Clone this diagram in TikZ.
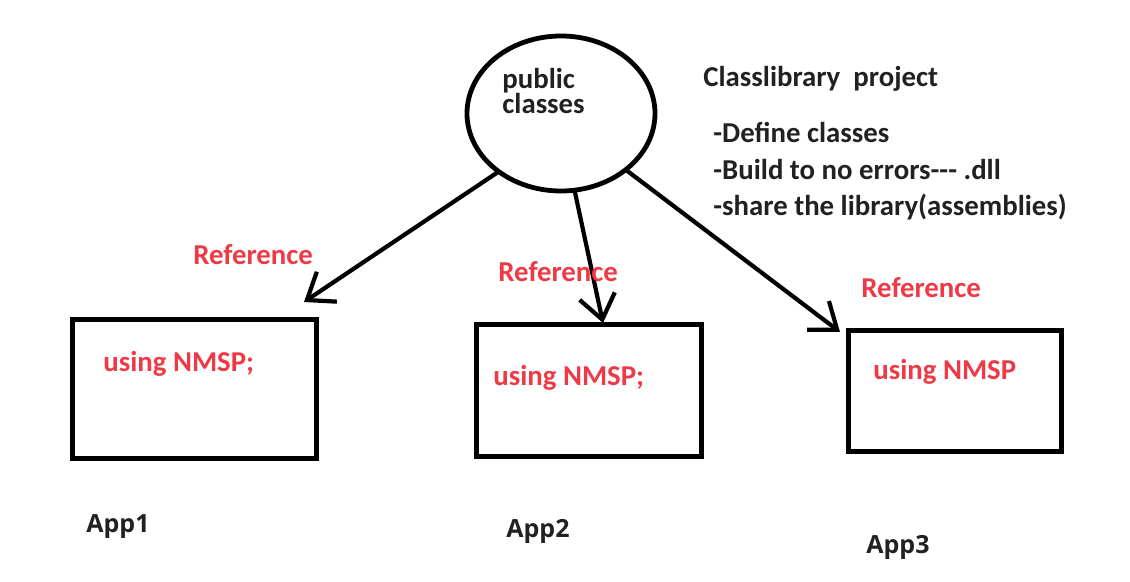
\documentclass[tikz,border=0pt]{standalone}
\usepackage{fontspec}
\setmainfont{Carlito}
\newfontfamily\appfont{Open Sans}
\usetikzlibrary{shapes.geometric,arrows.meta}
\definecolor{refred}{RGB}{237,58,70}
\definecolor{inkgray}{RGB}{33,33,33}
\begin{document}
\begin{tikzpicture}[x=0.5pt,y=-0.5pt,
    txt/.style={anchor=base west,inner sep=0pt,font=\fontsize{14.4}{16}\selectfont\bfseries,text=inkgray},
    redtxt/.style={txt,text=refred},
    apptxt/.style={anchor=base west,inner sep=0pt,font=\appfont\fontsize{12.5}{15}\selectfont\bfseries,text=inkgray},
    appbox/.style={draw,line width=2.5pt,inner sep=0pt,outer sep=0pt,anchor=north west},
    refarrow/.style={line width=2.1pt,-{Straight Barb[length=12pt,width=18pt]}}]

    \useasboundingbox (0,0) rectangle (1130,582);

    % the class library
    \node[draw,ellipse,line width=2.4pt,inner sep=0pt,outer sep=0pt,
          minimum width=94pt,minimum height=77.5pt] (pub) at (561,113.5) {};
       \node[txt,align=left,font=\fontsize{14.4}{12.8}\selectfont\bfseries] (pubtxt) at (502,114){public\\classes};

    \node[txt] (proj) at (703,87){Classlibrary~ project};
       \node[txt] (stepA) at (713,143){-Define classes};
       \node[txt] (stepB) at (713,180){-Build to no errors{-}{-}{-} .dll};
       \node[txt] (stepC) at (713,216){-share the library(assemblies)};

    % the apps
    \node[appbox,minimum width=122pt,minimum height=69.5pt] (box1) at (72,320){};
    \node[appbox,minimum width=112.5pt,minimum height=66pt] (box2) at (476,325){};
    \node[appbox,minimum width=106.5pt,minimum height=60.5pt] (box3) at (848,331){};

       \node[redtxt] (use1) at (103,372){using NMSP;};
       \node[redtxt] (use2) at (493,386){using NMSP;};
       \node[redtxt] (use3) at (873,380){using NMSP};

    \node[apptxt] (app1) at (86,532){App1};
    \node[apptxt] (app2) at (506,538){App2};
    \node[apptxt] (app3) at (866,553){App3};

    % references
    \coordinate (tip1) at (304,302);
    \coordinate (tip2) at (603,323);
    \coordinate (tip3) at (840,332);

    \draw[refarrow] (pub.223.4) -- (tip1);
    \draw[refarrow] (pub.280.6) -- (tip2);
    \draw[refarrow] (pub.319.7) -- (tip3);

    \node[redtxt] (ref1) at (193,265){Reference};
    \node[redtxt] (ref2) at (498,282){Reference};
    \node[redtxt] (ref3) at (861,298){Reference};
  \end{tikzpicture}
\end{document}
